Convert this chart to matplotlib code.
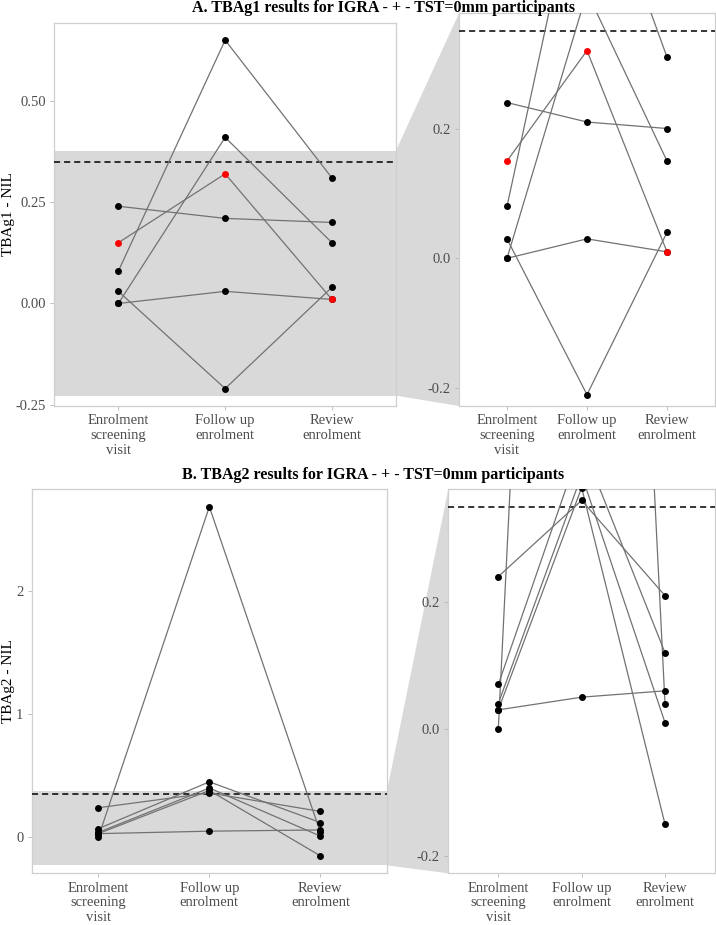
import matplotlib
matplotlib.use("Agg")
import matplotlib.pyplot as plt
from matplotlib.patches import Polygon

# ---------------- data ----------------
visits = ["Enrolment\nscreening\nvisit", "Follow up\nenrolment", "Review\nenrolment"]

# Panel A: TBAg1 - NIL, one entry per participant
tbag1_enrol = [0.24, 0.15, 0.08, 0.03, 0.00, 0.00]
tbag1_follow = [0.21, 0.32, 0.65, -0.21, 0.41, 0.03]
tbag1_review = [0.20, 0.01, 0.31, 0.04, 0.15, 0.01]
tbag1_red = [False, True, False, False, False, False]

# Panel B: TBAg2 - NIL, one entry per participant
tbag2_enrol = [0.24, 0.07, 0.04, 0.03, 0.03, 0.00]
tbag2_follow = [0.36, 0.45, 0.40, 0.38, 0.05, 2.68]
tbag2_review = [0.21, 0.12, 0.01, -0.15, 0.06, 0.04]
tbag2_red = [False] * 6

cutoff = 0.35
zoom_range = (-0.2, 0.35)

title_a = "A. TBAg1 results for IGRA - + - TST=0mm participants"
title_b = "B. TBAg2 results for IGRA - + - TST=0mm participants"
ylabel_a = "TBAg1 - NIL"
ylabel_b = "TBAg2 - NIL"
ticks_a_main = [-0.25, 0.0, 0.25, 0.5]
labels_a_main = ["-0.25", "0.00", "0.25", "0.50"]
ticks_b_main = [0, 1, 2]
labels_b_main = ["0", "1", "2"]
ticks_zoom = [-0.2, 0.0, 0.2]
labels_zoom = ["-0.2", "0.0", "0.2"]

# ---------------- style ----------------
plt.rcParams['font.family'] = ['Liberation Serif', 'DejaVu Serif']
W, H = 716, 925
DPI = 100
fig = plt.figure(figsize=(W / DPI, H / DPI), dpi=DPI)

LINE_C = '#727272'
BAND_C = '#d9d9d9'
BORDER_C = '#cfcfcf'


def add_ax(left, top, right, bottom):
    return fig.add_axes([left / W, 1 - bottom / H, (right - left) / W, (bottom - top) / H])


def expand(lo, hi, f=0.05):
    d = (hi - lo) * f
    return lo - d, hi + d


def style(ax, ticks, labels, ylim):
    ax.set_xlim(0.4, 3.6)
    ax.set_ylim(*ylim)
    ax.set_xticks([1, 2, 3])
    ax.set_xticklabels(visits, linespacing=1.18)
    ax.set_yticks(ticks)
    ax.set_yticklabels(labels)
    ax.tick_params(axis='both', colors='#b5b5b5', length=3, width=0.6,
                   labelcolor='#4d4d4d', labelsize=10.5, pad=3)
    for s in ax.spines.values():
        s.set_color(BORDER_C)
        s.set_linewidth(0.9)
    ax.axhline(cutoff, color='black', lw=1.1, linestyle=(0, (4, 2.6)), zorder=3)


def draw_data(ax, enrol, follow, review, red):
    x = [1, 2, 3]
    for e, f, r in zip(enrol, follow, review):
        ax.plot(x, [e, f, r], color=LINE_C, lw=0.9, zorder=4, solid_capstyle='round')
    for e, f, r, rd in zip(enrol, follow, review, red):
        if not rd:
            ax.plot(x, [e, f, r], 'o', color='black', ms=5, mew=0, zorder=5)
    for e, f, r, rd in zip(enrol, follow, review, red):
        if rd:
            ax.plot(x, [e, f, r], 'o', color='#ff0000', ms=5, mew=0, zorder=6)


def panel(main_box, zoom_box, enrol, follow, review, red, ticks, labels, title, title_xy, ylabel, ylabel_y):
    allv = list(enrol) + list(follow) + list(review)
    main_lim = expand(min(allv), max(allv))
    zoom_lim = expand(*zoom_range)

    axm = add_ax(*main_box)
    axz = add_ax(*zoom_box)
    axm.axhspan(zoom_lim[0], zoom_lim[1], color=BAND_C, zorder=0, lw=0)
    draw_data(axm, enrol, follow, review, red)
    draw_data(axz, enrol, follow, review, red)
    style(axm, ticks, labels, main_lim)
    style(axz, ticks_zoom, labels_zoom, zoom_lim)

    # connector trapezoid between main band and zoom panel
    p1 = axm.transData.transform((3.6, zoom_lim[1]))
    p2 = axm.transData.transform((3.6, zoom_lim[0]))
    p3 = axz.transAxes.transform((0, 0))
    p4 = axz.transAxes.transform((0, 1))
    pts = [fig.transFigure.inverted().transform(p) for p in (p1, p2, p3, p4)]
    poly = Polygon(pts, closed=True, facecolor=BAND_C, edgecolor='none',
                   transform=fig.transFigure, zorder=0)
    fig.add_artist(poly)

    fig.text(title_xy[0] / W, 1 - title_xy[1] / H, title, ha='center', va='center',
             fontsize=11.5, fontweight='bold', color='black')
    fig.text(9 / W, 1 - ylabel_y / H, ylabel, rotation=90, ha='center', va='center',
             fontsize=11, color='black')


panel((54.3, 22.7, 396, 406), (459, 13.3, 715, 406),
      tbag1_enrol, tbag1_follow, tbag1_review, tbag1_red,
      ticks_a_main, labels_a_main, title_a, (384, 8.5), ylabel_a, 214)

panel((31.7, 489.3, 387, 873.3), (448.3, 489.3, 715, 873.3),
      tbag2_enrol, tbag2_follow, tbag2_review, tbag2_red,
      ticks_b_main, labels_b_main, title_b, (373, 475), ylabel_b, 681)

fig.savefig("out.png", dpi=DPI)
